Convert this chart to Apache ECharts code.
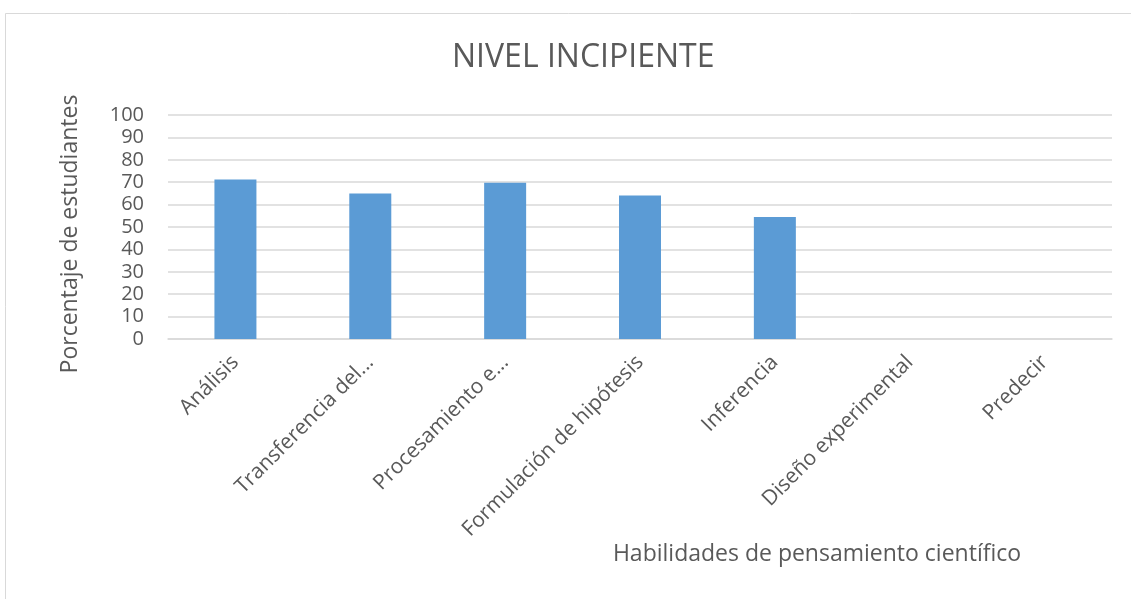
<!DOCTYPE html>
<html>
<head>
<meta charset="utf-8">
<script src="https://cdn.jsdelivr.net/npm/echarts@6/dist/echarts.min.js"></script>
<style>
  html, body { margin: 0; padding: 0; background: #fff; }
  #container { width: 1131px; height: 599px; }
</style>
</head>
<body>
<div id="container"></div>
<script>
// categorias y valores
var habilidades = ['Análisis', 'Transferencia del...', 'Procesamiento e...', 'Formulación de hipótesis', 'Inferencia', 'Diseño experimental', 'Predecir'];
var porcentajes = [71.2, 65, 69.7, 64.1, 54.5, 0, 0];
var ticksY = [0, 10, 20, 30, 40, 50, 60, 70, 80, 90, 100];

var gris = '#595959';
var fuente = '"Open Sans", "DejaVu Sans", sans-serif';

var dom = document.getElementById('container');
var myChart = echarts.init(dom);
var option = {
  backgroundColor: '#fff',
  animation: false,
  title: {
    text: 'NIVEL INCIPIENTE',
    left: 447,
    top: 37,
    textStyle: { fontFamily: fuente, fontSize: 32, fontWeight: 'normal', color: gris }
  },
  graphic: [{
    type: 'rect',
    shape: { x: 5.5, y: 13.5, width: 1140, height: 600 },
    style: { fill: 'none', stroke: '#d9d9d9', lineWidth: 1 }
  }],
  grid: { left: 168, right: 19, top: 115, bottom: 260 },
  xAxis: {
    type: 'category',
    data: habilidades,
    name: 'Habilidades de pensamiento científico',
    nameLocation: 'middle',
    nameGap: 204,
    nameTextStyle: { fontFamily: fuente, fontSize: 23, color: gris, padding: [0, 0, 0, 354] },
    axisLine: { lineStyle: { color: '#d9d9d9', width: 1.5 } },
    axisTick: { show: false },
    axisLabel: { rotate: 45, margin: 20, fontFamily: fuente, fontSize: 21, color: gris, interval: 0 }
  },
  yAxis: {
    type: 'value',
    min: ticksY[0],
    max: ticksY[ticksY.length - 1],
    interval: 10,
    name: 'Porcentaje de estudiantes',
    nameLocation: 'middle',
    nameGap: 86,
    nameTextStyle: { fontFamily: fuente, fontSize: 23, color: gris, padding: [0, 14, 0, 0] },
    axisLine: { show: false },
    axisTick: { show: false },
    axisLabel: { fontFamily: fuente, fontSize: 20, color: gris, margin: 24 },
    splitLine: { lineStyle: { color: '#d9d9d9', width: 1.5 } }
  },
  series: [{
    name: 'Nivel incipiente',
    type: 'bar',
    data: porcentajes,
    barWidth: 42,
    itemStyle: { color: '#5b9bd5' }
  }]
};

if (option && typeof option === 'object') {
  myChart.setOption(option, true);
}
</script>
</body>
</html>
